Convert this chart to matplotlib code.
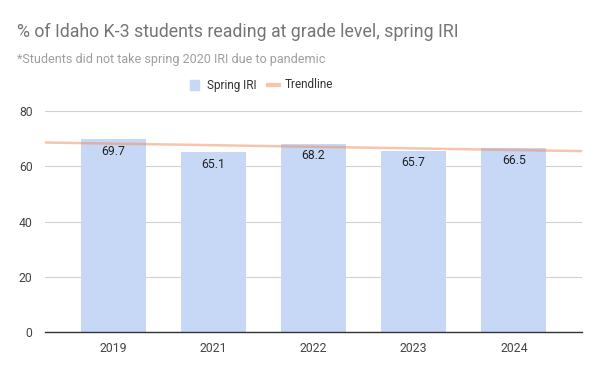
import matplotlib.pyplot as plt
import numpy as np

plt.rcParams['font.family'] = ['Roboto', 'DejaVu Sans']

years = ['2019', '2021', '2022', '2023', '2024']
spring_iri = [69.7, 65.1, 68.2, 65.7, 66.5]
yticks = [0, 20, 40, 60, 80]

fig = plt.figure(figsize=(6, 3.71), dpi=100)
ax = fig.add_axes([45 / 600, 1 - 332 / 371, 537 / 600, 221 / 371])

x = np.arange(len(years))
bars = ax.bar(x, spring_iri, width=0.65, color='#c6d8f5', zorder=2)

# linear trendline over category index, like sheets does
xlim = (-0.68, 4.68)
k, b = np.polyfit(x, spring_iri, 1)
tx = np.array(xlim)
ax.plot(tx, k * tx + b, color='#f08a5d', alpha=0.5, linewidth=1.8, zorder=3,
        solid_capstyle='butt')

for xi, v in zip(x, spring_iri):
    ax.annotate(str(v), (xi, v), xytext=(0, -4), textcoords='offset points',
                ha='center', va='top', fontsize=8.8, color='#222222', zorder=4)

ax.set_xlim(xlim)
ax.set_ylim(0, 80)
ax.set_yticks(yticks)
ax.set_xticks(x)
ax.set_xticklabels(years)
ax.grid(axis='y', color='#d0d0d0', linewidth=0.8, zorder=0)
for s in ['top', 'right', 'left']:
    ax.spines[s].set_visible(False)
ax.spines['bottom'].set_color('#333333')
ax.spines['bottom'].set_linewidth(1)
ax.tick_params(axis='both', length=0, labelsize=8.8, colors='#444444')
ax.tick_params(axis='y', pad=9)
ax.tick_params(axis='x', pad=7)

fig.text(17 / 600, 1 - 32 / 371, '% of Idaho K-3 students reading at grade level, spring IRI',
         fontsize=12.8, color='#757575', va='center')
fig.text(17 / 600, 1 - 59 / 371, '*Students did not take spring 2020 IRI due to pandemic',
         fontsize=9, color='#9e9e9e', va='center')

# legend
ly = 1 - 85 / 371
fig.patches.append(plt.Rectangle((190 / 600, ly - 5 / 371), 9 / 600, 10 / 371,
                                 transform=fig.transFigure, color='#c6d8f5'))
fig.text(207 / 600, ly, 'Spring IRI', fontsize=8.5, color='#333333', va='center')
fig.lines.append(plt.Line2D([268 / 600, 279 / 600], [ly, ly], transform=fig.transFigure,
                            color='#f08a5d', alpha=0.5, linewidth=3))
fig.text(285 / 600, ly, 'Trendline', fontsize=8.5, color='#333333', va='center')

plt.savefig('out.png', dpi=100)
